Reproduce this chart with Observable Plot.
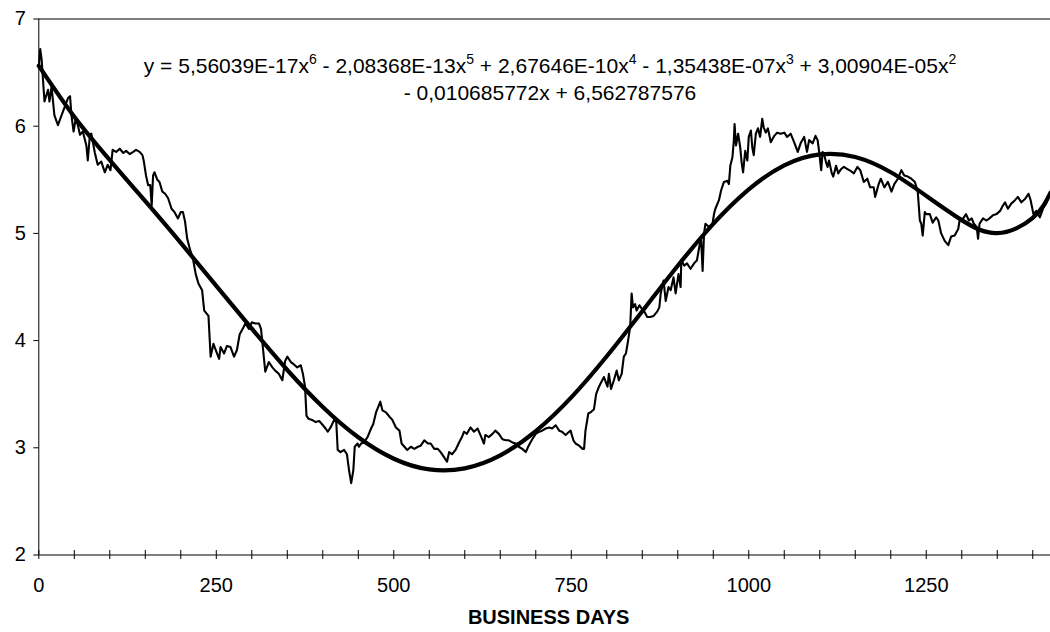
<!DOCTYPE html>
<html>
<head>
<meta charset="utf-8">
<script src="https://cdn.jsdelivr.net/npm/d3@7"></script>
<script src="https://cdn.jsdelivr.net/npm/@observablehq/plot@0.6"></script>
<style>
html, body { margin: 0; padding: 0; background: #fff; overflow: hidden; }
#wrap { position: relative; width: 1050px; height: 632px; }
#eq { position: absolute; left: 0; width: 1100px; top: 52px; text-align: center;
      font-family: "Liberation Sans", Arial, sans-serif; font-size: 21px; line-height: 27px;
      color: #000; white-space: nowrap; }
#eq sup { font-size: 14px; line-height: 0; vertical-align: 9px; }
</style>
</head>
<body>
<div id="wrap"><div id="chart"></div><div id="eq"></div></div>
<script>
// ---- data ----
const days = [0,2,4,8,13,15,18,22,27,32,36,41,44,46,49,52,55,58,62,67,69,72,74,79,83,88,93,97,101,104,109,114,119,123,128,133,137,142,146,148,151,154,157,159,161,163,167,170,174,178,182,187,191,196,200,203,206,209,213,217,221,225,230,233,239,242,246,251,254,256,261,265,270,275,279,283,288,291,296,300,305,310,313,316,319,324,329,333,338,343,347,350,355,359,364,369,372,375,377,380,385,390,395,399,404,407,411,416,419,421,425,430,434,437,440,443,445,449,451,454,458,463,468,471,475,478,481,484,489,494,498,503,508,511,515,519,524,529,534,538,543,548,552,557,562,566,571,575,578,582,587,592,596,599,603,608,613,618,622,627,629,634,639,643,648,653,658,662,667,672,676,681,686,690,695,700,705,709,714,719,723,728,733,737,742,747,749,753,756,761,766,768,770,774,777,782,785,789,792,796,801,803,806,810,814,817,821,824,827,830,833,835,837,840,842,846,849,853,857,861,866,871,874,876,880,883,887,890,894,897,901,904,905,909,913,918,923,927,931,933,935,937,939,944,949,951,953,958,961,965,970,972,974,977,979,980,982,985,988,990,992,995,998,1000,1003,1005,1007,1010,1013,1016,1019,1021,1024,1027,1031,1036,1040,1045,1050,1054,1059,1064,1069,1073,1078,1082,1085,1090,1094,1097,1099,1102,1104,1106,1109,1111,1113,1117,1119,1123,1126,1130,1134,1139,1144,1148,1153,1157,1162,1167,1171,1176,1178,1183,1186,1191,1196,1201,1205,1210,1215,1219,1224,1229,1234,1238,1241,1243,1245,1248,1250,1255,1259,1264,1267,1271,1276,1281,1285,1290,1295,1297,1302,1306,1310,1314,1317,1321,1323,1325,1330,1335,1339,1344,1349,1354,1358,1361,1365,1370,1375,1379,1384,1389,1394,1397,1401,1405,1410,1415,1419,1424];
const values = [6.55,6.72,6.62,6.23,6.34,6.23,6.37,6.10,6.01,6.10,6.17,6.26,6.28,6.10,5.95,6.07,6.01,5.92,5.95,5.82,5.68,5.92,5.93,5.75,5.64,5.67,5.57,5.64,5.59,5.78,5.76,5.79,5.75,5.77,5.74,5.76,5.78,5.76,5.73,5.67,5.54,5.45,5.45,5.26,5.54,5.57,5.50,5.48,5.39,5.37,5.33,5.23,5.20,5.14,5.20,5.20,5.11,4.95,4.85,4.77,4.62,4.53,4.47,4.28,4.23,3.85,3.97,3.88,3.83,3.94,3.88,3.95,3.94,3.85,3.91,4.06,4.12,4.16,4.11,4.17,4.16,4.16,4.11,3.91,3.71,3.80,3.75,3.72,3.69,3.63,3.81,3.85,3.80,3.78,3.75,3.77,3.69,3.57,3.30,3.27,3.26,3.24,3.25,3.22,3.18,3.15,3.19,3.26,3.24,2.98,2.96,2.98,2.94,2.79,2.67,2.79,3.01,3.04,3.01,3.04,3.05,3.10,3.18,3.22,3.33,3.38,3.43,3.35,3.33,3.29,3.26,3.19,3.16,3.04,3.01,2.98,3.01,2.99,3.01,3.02,3.07,3.04,3.04,2.99,2.99,2.96,2.91,2.87,2.96,2.94,2.98,3.05,3.10,3.15,3.13,3.19,3.15,3.18,3.12,3.04,3.12,3.10,3.13,3.16,3.13,3.08,3.07,3.07,3.05,3.04,3.01,2.99,2.96,3.02,3.08,3.13,3.15,3.16,3.18,3.19,3.18,3.21,3.16,3.15,3.12,3.15,3.16,3.07,3.04,3.02,2.99,2.99,3.16,3.32,3.33,3.36,3.50,3.57,3.61,3.66,3.57,3.69,3.55,3.63,3.72,3.63,3.69,3.85,3.88,4.00,4.13,4.44,4.31,4.34,4.28,4.33,4.30,4.27,4.22,4.22,4.23,4.27,4.31,4.44,4.56,4.37,4.50,4.47,4.59,4.44,4.62,4.50,4.75,4.70,4.72,4.67,4.72,4.75,4.90,4.93,4.65,5.00,5.09,5.06,5.09,5.18,5.23,5.31,5.40,5.48,5.49,5.46,5.63,5.71,5.87,6.02,5.82,5.93,5.80,5.66,5.57,5.77,5.68,5.90,5.96,5.80,5.73,5.93,5.98,5.90,6.07,5.99,5.94,5.98,5.85,5.91,5.94,5.93,5.94,5.90,5.93,5.85,5.76,5.84,5.90,5.76,5.87,5.84,5.91,5.87,5.77,5.59,5.76,5.74,5.66,5.62,5.68,5.56,5.53,5.63,5.56,5.60,5.62,5.60,5.58,5.56,5.62,5.59,5.48,5.51,5.43,5.43,5.34,5.46,5.51,5.43,5.48,5.39,5.46,5.51,5.59,5.54,5.53,5.51,5.48,5.39,5.12,5.09,4.98,5.20,5.18,5.18,5.10,5.15,5.12,5.00,4.93,4.89,4.97,4.98,5.04,5.12,5.14,5.18,5.12,5.14,5.09,5.06,4.95,5.09,5.14,5.12,5.14,5.17,5.18,5.21,5.26,5.29,5.23,5.28,5.31,5.34,5.29,5.32,5.37,5.31,5.18,5.21,5.15,5.24,5.28,5.37];

// trend line (6th-order polynomial shown on the chart), sampled every 50 days
const trendDays   = [0,50,100,150,200,250,300,350,400,450,500,550,600,650,700,750,800,850,900,950,1000,1050,1100,1150,1200,1250,1300,1350,1400,1425];
const trendValues = [6.563,6.088,5.684,5.300,4.911,4.511,4.111,3.726,3.381,3.098,2.898,2.798,2.808,2.929,3.155,3.470,3.854,4.274,4.698,5.089,5.411,5.635,5.737,5.712,5.570,5.350,5.124,5.002,5.145,5.381];

const xMinorTicks = [0,50,100,150,200,250,300,350,400,450,500,550,600,650,700,750,800,850,900,950,1000,1050,1100,1150,1200,1250,1300,1350,1400];
const xLabelTicks = [0,250,500,750,1000,1250];
const yTicks = [2,3,4,5,6,7];
const xTitle = "BUSINESS DAYS";
const eqTerms = [["y = 5,56039E-17x","6"],[" - 2,08368E-13x","5"],[" + 2,67646E-10x","4"],[" - 1,35438E-07x","3"],[" + 3,00904E-05x","2"]];
const eqLine2 = "- 0,010685772x + 6,562787576";

// ---- build ----
const series = days.map((d, i) => ({day: d, value: values[i]}));
const trend = trendDays.map((d, i) => ({day: d, value: trendValues[i]}));

const chart = Plot.plot({
  width: 1050,
  height: 632,
  marginLeft: 38.3,
  marginRight: 0,
  marginTop: 18.5,
  marginBottom: 77.5,
  style: {fontFamily: '"Liberation Sans", Arial, sans-serif', fontSize: "20px", background: "white", color: "black", overflow: "visible"},
  x: {domain: [0, 1425], label: null},
  y: {domain: [2, 7], label: null},
  marks: [
    Plot.ruleY([7], {stroke: "black", strokeWidth: 1}),
    Plot.ruleY([2], {stroke: "black", strokeWidth: 1}),
    Plot.ruleX([0], {stroke: "black", strokeWidth: 1}),
    Plot.axisY({ticks: yTicks, tickSize: 5, tickPadding: 8, fontSize: 20, label: null, tickFormat: "d"}),
    Plot.axisX({ticks: xMinorTicks, tickSize: 9, dy: -4.5, tickFormat: () => "", label: null}),
    Plot.axisX({ticks: xLabelTicks, tickSize: 0, tickPadding: 22.5, fontSize: 20, label: null, tickFormat: "d"}),
    Plot.text([xTitle], {text: d => d, frameAnchor: "bottom", dy: 69, dx: 4, fontWeight: "bold", fontSize: 20}),
    Plot.line(series, {x: "day", y: "value", stroke: "black", strokeWidth: 2.1, strokeLinejoin: "round"}),
    Plot.line(trend, {x: "day", y: "value", stroke: "black", strokeWidth: 4.2, curve: "natural"})
  ]
});
document.getElementById("chart").appendChild(chart);

const eq = document.getElementById("eq");
eq.innerHTML = eqTerms.map(([t, p]) => `${t}<sup>${p}</sup>`).join("") + "<br>" + eqLine2;
</script>
</body>
</html>
